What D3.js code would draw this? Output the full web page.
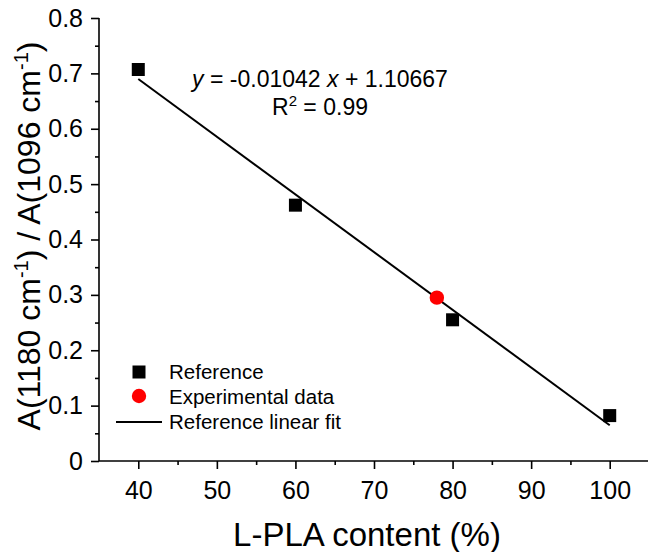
<!DOCTYPE html>
<html><head><meta charset="utf-8">
<script src="https://cdn.jsdelivr.net/npm/d3@7"></script>
<style>body{margin:0;background:#fff}svg{display:block}text{font-family:"Liberation Sans",Arial,sans-serif;fill:#000}</style>
</head><body>
<svg id="c" width="648" height="552"></svg>
<script>
const refX = [40, 60, 80, 100];
const refY = [0.707, 0.462, 0.255, 0.082];
const expX = [78];
const expY = [0.295];
const fitSlope = -0.01042, fitIntercept = 1.10667;
const fitRange = [40, 100];
const xTicks = [40, 50, 60, 70, 80, 90, 100];
const yTicks = [0, 0.1, 0.2, 0.3, 0.4, 0.5, 0.6, 0.7, 0.8];
const legendLabels = ["Reference", "Experimental data", "Reference linear fit"];

const svg = d3.select("#c");
const x = d3.scaleLinear().domain([35, 105]).range([99, 649]);
const y = d3.scaleLinear().domain([0, 0.8]).range([461, 18]);

// axes
const xAxis = svg.append("g").attr("transform", "translate(0,461)")
  .call(d3.axisBottom(x).tickValues(xTicks).tickSize(8).tickPadding(12).tickFormat(d3.format("d")));
const xMinor = svg.append("g").attr("transform", "translate(0,461)")
  .call(d3.axisBottom(x).tickValues(d3.range(45, 105, 10)).tickSize(4).tickFormat(""));
const yAxis = svg.append("g").attr("transform", "translate(99,0)")
  .call(d3.axisLeft(y).tickValues(yTicks).tickSize(8).tickPadding(8).tickFormat(d => d === 0 ? "0" : d3.format(".1f")(d)));
const yMinor = svg.append("g").attr("transform", "translate(99,0)")
  .call(d3.axisLeft(y).tickValues(d3.range(0.05, 0.8, 0.1)).tickSize(4).tickFormat(""));
[xAxis, xMinor, yAxis, yMinor].forEach(g => {
  g.select(".domain").attr("stroke", "#000").attr("stroke-width", 1.6);
  g.selectAll(".tick line").attr("stroke", "#000").attr("stroke-width", 1.6);
  g.selectAll(".tick text").attr("font-size", 25).attr("font-family", '"Liberation Sans",Arial,sans-serif').attr("fill", "#000");
});
xMinor.select(".domain").remove(); yMinor.select(".domain").remove();
xAxis.select(".domain").attr("d", "M99,0H649");
yAxis.select(".domain").attr("d", "M0,461V18");

// fit line
svg.append("line")
  .attr("x1", x(fitRange[0])).attr("y1", y(fitSlope * fitRange[0] + fitIntercept))
  .attr("x2", x(fitRange[1])).attr("y2", y(fitSlope * fitRange[1] + fitIntercept))
  .attr("stroke", "#000").attr("stroke-width", 2);

// reference squares
const s = 13;
svg.selectAll("rect.ref").data(refX.map((v, i) => [v, refY[i]])).enter().append("rect")
  .attr("x", d => x(d[0]) - s / 2).attr("y", d => y(d[1]) - s / 2)
  .attr("width", s).attr("height", s).attr("fill", "#000");
// experimental
svg.selectAll("circle.exp").data(expX.map((v, i) => [v, expY[i]])).enter().append("circle")
  .attr("cx", d => x(d[0])).attr("cy", d => y(d[1])).attr("r", 7.2).attr("fill", "#ff0000");

// equation
const eq = svg.append("text").attr("x", 320).attr("y", 87).attr("text-anchor", "middle").attr("font-size", 23);
eq.append("tspan").attr("font-style", "italic").text("y");
eq.append("tspan").text(" = -0.01042 ");
eq.append("tspan").attr("font-style", "italic").text("x");
eq.append("tspan").text(" + 1.10667");
const r2 = svg.append("text").attr("x", 320).attr("y", 115).attr("text-anchor", "middle").attr("font-size", 23);
r2.append("tspan").text("R");
r2.append("tspan").attr("dy", -9).attr("font-size", 15).text("2");
r2.append("tspan").attr("dy", 9).text(" = 0.99");

// legend
const lg = svg.append("g");
lg.append("rect").attr("x", 139 - s / 2).attr("y", 372 - s / 2).attr("width", s).attr("height", s).attr("fill", "#000");
lg.append("circle").attr("cx", 139).attr("cy", 396).attr("r", 7.2).attr("fill", "#ff0000");
lg.append("line").attr("x1", 116).attr("x2", 162).attr("y1", 422).attr("y2", 422).attr("stroke", "#000").attr("stroke-width", 2);
legendLabels.forEach((t, i) => {
  lg.append("text").attr("x", 169).attr("y", 379 + i * 25).attr("font-size", 20.5).text(t);
});

// axis titles
svg.append("text").attr("x", 367).attr("y", 546).attr("text-anchor", "middle").attr("font-size", 33).text("L-PLA content (%)");
const yt = svg.append("text").attr("transform", "translate(40,236) rotate(-90)").attr("text-anchor", "middle").attr("font-size", 32);
yt.append("tspan").text("A(1180 cm");
yt.append("tspan").attr("dy", -12).attr("font-size", 20).text("-1");
yt.append("tspan").attr("dy", 12).text(") / A(1096 cm");
yt.append("tspan").attr("dy", -12).attr("font-size", 20).text("-1");
yt.append("tspan").attr("dy", 12).text(")");
</script>
</body></html>
